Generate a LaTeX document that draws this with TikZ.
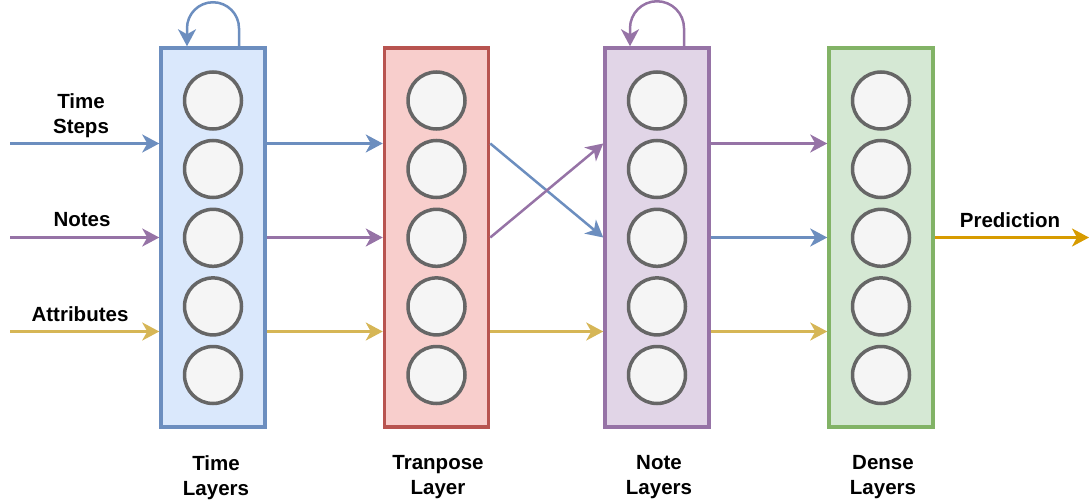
\documentclass[tikz,border=0pt]{standalone}
\usepackage{fontspec}
\setmainfont{Liberation Sans}
\usetikzlibrary{arrows.meta}

\definecolor{cBlue}{HTML}{6C8EBF}
\definecolor{cBlueFill}{HTML}{DAE8FC}
\definecolor{cRed}{HTML}{B85450}
\definecolor{cRedFill}{HTML}{F8CECC}
\definecolor{cPurple}{HTML}{9673A6}
\definecolor{cPurpleFill}{HTML}{E1D5E7}
\definecolor{cGreen}{HTML}{82B366}
\definecolor{cGreenFill}{HTML}{D5E8D4}
\definecolor{cYellow}{HTML}{D6B656}
\definecolor{cOrange}{HTML}{D79B00}
\definecolor{cGreyLine}{HTML}{666666}
\definecolor{cGreyFill}{HTML}{F5F5F5}

\tikzset{
  layerbox/.style={rectangle, line width=3.5pt, minimum width=104pt, minimum height=379pt, inner sep=0pt},
  neuron/.style={circle, draw=cGreyLine, fill=cGreyFill, line width=3.5pt, minimum size=57pt, inner sep=0pt},
  flow/.style={line width=2.5pt, -{Stealth[length=17pt, width=18pt, inset=5pt]}},
  lbl/.style={font=\fontsize{20.5}{25}\selectfont\bfseries, align=center, inner sep=0pt, text=black},
}

\begin{document}
\begin{tikzpicture}[x=1pt, y=-1pt]
  \useasboundingbox (0,0) rectangle (1089,503);

  % the four layer blocks
  \node[layerbox, draw=cBlue,   fill=cBlueFill]   (time)  at (213,237.5) {};
  \node[layerbox, draw=cRed,    fill=cRedFill]    (trans) at (436.5,237.5) {};
  \node[layerbox, draw=cPurple, fill=cPurpleFill] (note)  at (657,237.5) {};
  \node[layerbox, draw=cGreen,  fill=cGreenFill]  (dense) at (881,237.5) {};

  % neurons inside each block
  \foreach \blk in {time,trans,note,dense} {
    \foreach \i/\y in {1/100.5, 2/169, 3/237.8, 4/306.4, 5/375} {
      \node[neuron] (\blk\i) at (\blk.center |- 0,\y) {};
    }
  }

  % input rows
  \coordinate (rowA) at (10,143.5);
  \coordinate (rowB) at (10,237.5);
  \coordinate (rowC) at (10,331.5);

  % inputs
  \draw[flow, cBlue]   (rowA) -- (rowA -| time.west);
  \draw[flow, cPurple] (rowB) -- (rowB -| time.west);
  \draw[flow, cYellow] (rowC) -- (rowC -| time.west);

  % time -> transpose
  \draw[flow, cBlue]   (rowA -| time.east) -- (rowA -| trans.west);
  \draw[flow, cPurple] (rowB -| time.east) -- (rowB -| trans.west);
  \draw[flow, cYellow] (rowC -| time.east) -- (rowC -| trans.west);

  % transpose -> note (crossed)
  \draw[flow, cBlue]   (rowA -| trans.east) -- (rowB -| note.west);
  \draw[flow, cPurple] (rowB -| trans.east) -- (rowA -| note.west);
  \draw[flow, cYellow] (rowC -| trans.east) -- (rowC -| note.west);

  % note -> dense
  \draw[flow, cPurple] (rowA -| note.east) -- (rowA -| dense.west);
  \draw[flow, cBlue]   (rowB -| note.east) -- (rowB -| dense.west);
  \draw[flow, cYellow] (rowC -| note.east) -- (rowC -| dense.west);

  % output
  \coordinate (outEnd) at (1089,237.5);
  \draw[flow, cOrange] (rowB -| dense.east) -- (outEnd);

  % recurrent loops
  \draw[flow, cBlue] ([xshift=26pt]time.north) -- ++(0,-18)
    arc[start angle=0, end angle=-180, radius=26] -- ([xshift=-26pt]time.north);
  \draw[flow, cPurple] ([xshift=27pt]note.north) -- ++(0,-18)
    arc[start angle=0, end angle=-180, radius=27] -- ([xshift=-27pt]note.north);

  % labels
  \node[lbl] (lSteps) at (81,115.2) {Time\\Steps};
  \node[lbl, anchor=base] (lNotes) at (82,226.7) {Notes};
  \node[lbl, anchor=base] (lAttr) at (80,321.7) {Attributes};
  \node[lbl, anchor=base] (lPred) at (1010,227) {Prediction};

  \node[lbl] (nTime)  at (216,477.2) {Time\\Layers};
  \node[lbl] (nTrans) at (438,477.2) {Tranpose\\Layer};
  \node[lbl] (nNote)  at (659,477.2) {Note\\Layers};
  \node[lbl] (nDense) at (883,477.2) {Dense\\Layers};
\end{tikzpicture}
\end{document}
